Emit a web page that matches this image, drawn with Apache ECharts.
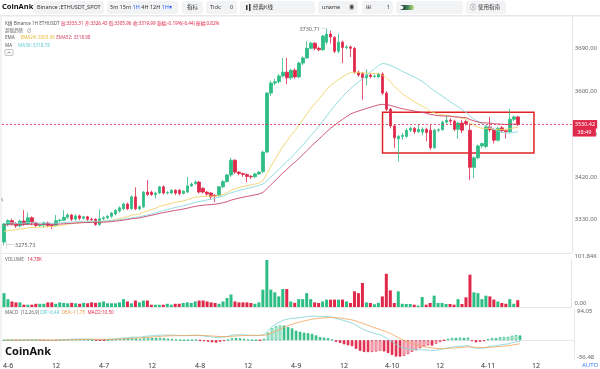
<!DOCTYPE html>
<html><head><meta charset="utf-8">
<script src="https://cdn.jsdelivr.net/npm/echarts@6/dist/echarts.min.js"></script>
<style>html,body{margin:0;padding:0;background:#fff}#c{width:600px;height:369px}</style>
</head><body><div id="c"></div>
<script>
// ---- data (hourly candles, first candle = 4-5 23:00) ----
const startHour = -1;
const totalSlots = 143;
const opens = [3283,3321,3328,3322,3317,3327,3321,3334,3323,3318, 3319,3323,3319,3318,3328,3329,3335,3340,3331,3338, 3333,3336,3331,3331,3320,3332,3334,3337,3342,3348, 3353,3363,3353,3378,3353,3357,3388,3388,3383,3386, 3399,3386,3386,3392,3392,3385,3388,3401,3406,3409, 3396,3388,3386,3381,3381,3399,3410,3424,3455,3430, 3427,3425,3421,3420,3426,3431,3472,3596,3617,3620, 3632,3640,3628,3644,3630,3659,3670,3690,3701,3690, 3687,3703,3720,3713,3684,3703,3692,3693,3690,3640, 3637,3628,3634,3631,3630,3636,3596,3562,3527,3500, 3505,3505,3518,3522,3515,3514,3520,3518,3481,3518, 3519,3535,3539,3537,3520,3533,3536,3518,3440,3460, 3485,3484,3525,3519,3497,3523,3517,3515,3541,3546];
const closes = [3321,3328,3322,3317,3327,3321,3334,3323,3318,3319, 3323,3318,3318,3328,3329,3335,3340,3331,3338,3333, 3336,3331,3330,3320,3332,3334,3337,3344,3350,3355, 3363,3353,3378,3353,3357,3388,3383,3383,3386,3399, 3386,3387,3392,3386,3385,3390,3401,3405,3409,3388, 3388,3384,3378,3380,3399,3410,3424,3455,3430,3427, 3425,3421,3420,3426,3430,3472,3596,3617,3620,3632, 3640,3628,3644,3630,3659,3670,3690,3701,3690,3687, 3716,3720,3714,3684,3703,3692,3693,3690,3640,3634, 3628,3634,3631,3632,3636,3596,3562,3527,3502,3505, 3507,3518,3522,3515,3520,3520,3513,3481,3518,3519, 3535,3539,3537,3520,3533,3518,3532,3440,3460,3485, 3490,3525,3519,3497,3522,3517,3515,3541,3546,3530.42];
const lows = [3275.73,3316,3318,3313,3314,3317,3319,3318,3314,3315, 3313,3314,3310,3316,3325,3327,3332,3327,3328,3329, 3330,3327,3327,3317,3317,3329,3331,3334,3339,3345, 3350,3350,3351,3350,3350,3354,3380,3380,3375,3384, 3383,3383,3384,3382,3381,3383,3386,3399,3403,3385, 3385,3380,3372,3367,3378,3396,3408,3420,3426,3423, 3420,3409,3416,3418,3424,3428,3470,3590,3612,3616, 3628,3615,3624,3626,3627,3655,3668,3688,3686,3684, 3685,3698,3700,3680,3680,3659,3688,3672,3637,3630, 3582,3612,3627,3628,3628,3592,3558,3522,3481,3452, 3498,3502,3514,3510,3512,3508,3495,3477,3479,3514, 3517,3532,3532,3516,3500,3512,3528,3413,3417,3457, 3480,3480,3514,3490,3494,3513,3500,3512,3537,3527];
const highs = [3323,3331,3332,3325,3330,3350,3345,3337,3326,3322, 3326,3326,3321,3340,3332,3350,3343,3342,3341,3341, 3338,3338,3334,3333,3352,3337,3340,3346,3352,3358, 3366,3366,3381,3398,3360,3390,3413,3391,3389,3401, 3402,3390,3394,3394,3394,3392,3420,3408,3413,3411, 3398,3390,3388,3384,3401,3413,3426,3460,3457,3432, 3429,3427,3424,3429,3432,3475,3598,3622,3626,3636, 3670,3670,3647,3648,3662,3673,3705,3704,3703,3694, 3718,3730.71,3727,3716,3720,3706,3697,3696,3693,3643, 3640,3646,3637,3635,3639,3640,3600,3565,3531,3508, 3512,3522,3525,3525,3530,3524,3523,3530,3521,3522, 3538,3550,3543,3540,3536,3540,3540,3532,3463,3488, 3492,3528,3546,3522,3525,3527,3518,3563,3549,3548];
const volumesK = [30,17,12,10,10,5,5,5,7,7, 7,10,10,7,10,8.7,8,9,8,7, 9,8,10,9,10,12,8,8,8,10, 17,12,8,14,10,14,14,5,5,5, 5,7,5,7,7,8.7,10,8.7,12,14, 14,12,10,8.7,7,12,19.5,27,12,10, 10,10,8.7,7,10,37.6,101.84,37.6,31.8,23, 39,39,12,9,17,17,30,17,10,8.7, 12,16,16,16,16,16,12,8.7,34,30, 52,10,8.7,6,9,23,72,36,8.7,34, 7,6.5,6.5,5,3,21.7,5,8.7,24.5,8.7, 8.7,6.5,6.5,5,17,6.5,21,70,31.8,30, 17,24.5,23,16,12,8.7,7,17,7,14.78];
const priceTicks = [3330, 3420, 3510, 3600, 3690];
const volumeTicks = [0, 101840];
const macdTicks = [-56.48, 94.05];
const lastPrice = 3530.42;
const countdownText = '38:49';
const boxRange = {fromIdx: 95, toIdx: 133, top: 3556, bottom: 3470};
const emaSeed = {ema24: 3303.65, ema52: 3318.98};

// ---- categories ----
const categories = [];
for (let i = 0; i < totalSlots; i++) {
  const h = i + startHour;
  const d = 6 + Math.floor(h / 24);
  const hh = ((h % 24) + 24) % 24;
  categories.push('4-' + d + ' ' + String(hh).padStart(2, '0') + ':00');
}
function hourOf(c){ return +c.slice(-5, -3); }

// ---- derived ----
const G = '#2ebd85', R = '#e0294a';
const candleData = opens.map((o, i) => [o, closes[i], lows[i], highs[i]]);
function ema(arr, n, seed) {
  const k = 2 / (n + 1); let e = seed == null ? arr[0] : seed; const out = [];
  arr.forEach((v, i) => { e = (i === 0 && seed == null) ? v : v * k + e * (1 - k); out.push(+e.toFixed(2)); });
  return out;
}
function ma(arr, n) {
  return arr.map((v, i) => { const s = arr.slice(Math.max(0, i - n + 1), i + 1); return +(s.reduce((a, b) => a + b, 0) / s.length).toFixed(2); });
}
const ema24 = ema(closes, 24, emaSeed.ema24);
const ema52 = ema(closes, 52, emaSeed.ema52);
const ma30 = ma(closes, 30);
const e12 = ema(closes, 12), e26 = ema(closes, 26);
const dif = e12.map((v, i) => +(v - e26[i]).toFixed(2));
const dea = ema(dif, 9);
const hist = dif.map((v, i) => +(2 * (v - dea[i])).toFixed(2));
const histData = hist.map((v, i) => {
  const col = v >= 0 ? G : R;
  const hollow = i > 0 && v > hist[i - 1];
  return {value: v, itemStyle: {color: hollow ? '#fff' : col, borderColor: col, borderWidth: 0.8}};
});
const volData = volumesK.map((v, i) => ({value: v * 1000, itemStyle: {color: closes[i] >= opens[i] ? G : R}}));

const FONT = "'Noto Sans','Noto Sans CJK SC',sans-serif";
const chart = echarts.init(document.getElementById('c'), null, {renderer: 'canvas'});

const grids = [
  {left: 2, right: 26, top: 16, height: 237},
  {left: 2, right: 26, top: 260, height: 47},
  {left: 2, right: 26, top: 309, height: 50}
];
const baseX = (gi, showLabel) => ({
  type: 'category', gridIndex: gi, data: categories, boundaryGap: true,
  axisLine: {show: true, lineStyle: {color: '#e6e6e6', width: 1}},
  axisTick: {show: false}, splitLine: {show: false},
  axisLabel: showLabel ? {
    show: true, margin: 3, fontSize: 7, color: '#333', fontFamily: FONT,
    interval: (idx, v) => hourOf(v) % 12 === 0,
    formatter: v => { const hh = hourOf(v); return hh === 0 ? v.split(' ')[0] : (hh === 12 ? '12' : ''); }
  } : {show: false}
});

const elements = [];
function rect(x, y, w, h, fill, r) { elements.push({type: 'rect', shape: {x, y, width: w, height: h, r: r || 0}, style: {fill}, silent: true}); }
function text(x, y, t, size, fill, extra) { elements.push({type: 'text', x, y, silent: true, style: Object.assign({text: t, fontSize: size, fill, fontFamily: FONT, verticalAlign: 'middle', align: 'left'}, extra || {})}); }
function rich(x, y, t, size, styles) {
  const r = {};
  Object.keys(styles).forEach(k => { r[k] = {fontSize: size, fill: styles[k], fontFamily: FONT}; });
  elements.push({type: 'text', x, y, silent: true, style: {text: t, fontFamily: FONT, fontSize: size, verticalAlign: 'middle', rich: r}});
}
// toolbar
rect(0, 15, 600, 1.5, '#e8e8e8');
text(2, 7, 'CoinAnk', 7.5, '#111', {fontWeight: 'bold'});
rect(33, 1, 71, 13, '#f2f3f5', 3); text(37, 7.5, 'Binance :ETHUSDT_SPOT', 5.5, '#333');
rect(107, 1, 71, 13, '#f2f3f5', 3);
rich(110, 7.5, '{n|5m} {n|15m} {b|1H} {n|4H} {n|12H} {b|1H▾}', 5.5, {n: '#333', b: '#2962ff'});
rect(182, 1, 21, 13, '#f2f3f5', 3); text(187, 7.5, '指标', 5.5, '#333');
rect(206, 1, 31, 13, '#f2f3f5', 3); text(210, 7.5, 'Tick:', 5.5, '#333'); text(230, 7.5, '0', 5.5, '#333');
rect(240, 1, 75, 13, '#f2f3f5', 3);
rect(246, 5, 1.5, 5, '#333'); rect(249, 4, 1.5, 7, '#333');
text(253, 7.5, '经典K线', 5.5, '#333');
rect(318, 1, 40, 13, '#f2f3f5', 3); text(322, 7.5, 'uname', 5.5, '#333'); text(349, 7.5, '◉', 5.5, '#444');
rect(362, 1, 31, 13, '#f2f3f5', 3); text(366, 7.5, '⊞', 6, '#333'); text(387, 7.5, '1', 5.5, '#333');
rect(396, 1, 67, 13, '#f2f3f5', 3);
elements.push({type: 'rect', silent: true, shape: {x: 400, y: 5, width: 14, height: 5, r: 2.5}, style: {fill: new echarts.graphic.LinearGradient(0, 0, 1, 0, [{offset: 0, color: '#203040'}, {offset: 0.5, color: '#3a7a50'}, {offset: 1, color: '#b8e080'}])}});
elements.push({type: 'circle', silent: true, shape: {cx: 401.5, cy: 7.5, r: 1.8}, style: {fill: '#fff'}});
rect(466, 1, 40, 13, '#f2f3f5', 3); text(470, 7.5, 'ⓘ', 6, '#333'); text(478, 7.5, '使用指南', 5.5, '#333');
rect(0.5, 16, 1, 345, '#e6e6e6');
// info header
rich(5, 23.5, '{g|K线} {g|Binance 1H ETHUSDT} {r|高:3333.31} {r|开:3326.43} {r|低:3305.96} {r|收:3319.99} {r|涨幅:-0.19%(-6.44)} {r|振幅:0.82%}', 4.6, {g: '#555', r: R});
text(5, 30.5, '超级趋势   ⊘', 4.6, '#666');
rich(5, 38, '{g|EMA}     {y|EMA24: 3303.65} {r|EMA52: 3318.98}', 4.6, {g: '#555', y: '#e5b92e', r: '#d4456a'});
rich(5, 45.5, '{g|MA}     {c|MA30: 3318.78}', 4.6, {g: '#555', c: '#5fc9cf'});
elements.push({type: 'rect', silent: true, shape: {x: 5, y: 49.5, width: 8, height: 6, r: 1}, style: {fill: '#fff', stroke: '#999', lineWidth: 0.6}});
elements.push({type: 'polyline', silent: true, shape: {points: [[7.3, 53.5], [9, 51.8], [10.7, 53.5]]}, style: {stroke: '#555', lineWidth: 0.7, fill: null}});
text(1, 200, '‹', 8, '#888');
// volume & macd headers
rich(5, 260, '{g|VOLUME}   {r|14.78K}', 4.6, {g: '#666', r: R});
rich(5, 313, '{g|MACD}  {g|(12,26,9)} {c|DIF:-6.49}  {o|DEA:-11.75}  {r|MACD:10.50}', 4.6, {g: '#666', c: '#5fc9cf', o: '#ef9a4a', r: R});
text(5, 352, 'CoinAnk', 11, '#111', {fontWeight: 'bold'});
text(582, 365, 'AUTO', 6, '#3b82f6');

const axisLab = {fontSize: 6, color: '#666', fontFamily: FONT, margin: 3, align: 'left'};
const option = {
  animation: false,
  backgroundColor: '#fff',
  grid: grids,
  xAxis: [baseX(0, false), baseX(1, false), baseX(2, true)],
  yAxis: [
    {type: 'value', gridIndex: 0, position: 'right', min: 3260, max: 3758, scale: true,
      axisLine: {show: true, lineStyle: {color: '#e6e6e6'}}, axisTick: {show: false}, splitLine: {show: false},
      axisLabel: Object.assign({}, axisLab, {customValues: priceTicks, formatter: v => v.toFixed(2)})},
    {type: 'value', gridIndex: 1, position: 'right', min: 0, max: 101840,
      axisLine: {show: true, lineStyle: {color: '#e6e6e6'}}, axisTick: {show: false}, splitLine: {show: false},
      axisLabel: Object.assign({}, axisLab, {customValues: volumeTicks, verticalAlign: 'bottom', lineHeight: 7,
        formatter: v => v === 0 ? '0.00' : (v / 1000).toFixed(2) + 'K'})},
    {type: 'value', gridIndex: 2, position: 'right', min: macdTicks[0], max: macdTicks[1],
      axisLine: {show: true, lineStyle: {color: '#e6e6e6'}}, axisTick: {show: false}, splitLine: {show: false},
      axisLabel: Object.assign({}, axisLab, {customValues: macdTicks,
        formatter: v => v > 0 ? '{t|' + v.toFixed(2) + '}' : '{b|' + v.toFixed(2) + '}',
        rich: {t: {fontSize: 6, color: '#666', padding: [4, 0, 0, 0]}, b: {fontSize: 6, color: '#666', padding: [0, 0, 4, 0]}}})}
  ],
  graphic: {elements},
  series: [
    {type: 'candlestick', xAxisIndex: 0, yAxisIndex: 0, data: candleData, barWidth: 3,
      itemStyle: {color: G, color0: R, borderColor: G, borderColor0: R, borderWidth: 0.8},
      markPoint: {symbol: 'circle', symbolSize: 0.1, silent: true,
        label: {fontSize: 5.5, color: '#666', fontFamily: FONT},
        data: [
          {type: 'max', valueDim: 'highest', label: {position: 'left', distance: 0, formatter: p => p.value.toFixed(2) + ' ─'}},
          {type: 'min', valueDim: 'lowest', label: {position: 'right', distance: 0, formatter: p => '├─' + p.value.toFixed(2)}}
        ]},
      markLine: {symbol: 'none', silent: true,
        lineStyle: {color: R, type: [2, 2], width: 0.8},
        label: {show: true, position: 'end', distance: 1, fontSize: 5.5, color: '#fff', backgroundColor: R, padding: [1.5, 2], fontFamily: FONT},
        data: [
          {yAxis: lastPrice, label: {formatter: () => lastPrice.toFixed(2)}},
          {yAxis: lastPrice - 16.8, lineStyle: {color: 'rgba(0,0,0,0)', width: 0.1}, label: {show: true, color: '#fff', backgroundColor: R, formatter: () => countdownText, padding: [1.5, 4.5]}}
        ]},
      markArea: {silent: true, itemStyle: {color: 'rgba(0,0,0,0)', borderColor: '#e02424', borderWidth: 1.5},
        data: [[{xAxis: categories[boxRange.fromIdx], yAxis: boxRange.top}, {xAxis: categories[boxRange.toIdx], yAxis: boxRange.bottom}]]}
    },
    {type: 'line', xAxisIndex: 0, yAxisIndex: 0, data: ema24, showSymbol: false, lineStyle: {color: '#f1d36a', width: 0.9}},
    {type: 'line', xAxisIndex: 0, yAxisIndex: 0, data: ma30, showSymbol: false, lineStyle: {color: '#8ad8dc', width: 0.9}},
    {type: 'line', xAxisIndex: 0, yAxisIndex: 0, data: ema52, showSymbol: false, lineStyle: {color: '#c8456a', width: 0.9}},
    {type: 'bar', xAxisIndex: 1, yAxisIndex: 1, data: volData, barWidth: 3},
    {type: 'bar', xAxisIndex: 2, yAxisIndex: 2, data: histData, barWidth: 2.6},
    {type: 'line', xAxisIndex: 2, yAxisIndex: 2, data: dif, showSymbol: false, lineStyle: {color: '#7fd3d8', width: 0.8}},
    {type: 'line', xAxisIndex: 2, yAxisIndex: 2, data: dea, showSymbol: false, lineStyle: {color: '#f0a55a', width: 0.8}}
  ]
};
chart.setOption(option);
</script></body></html>
